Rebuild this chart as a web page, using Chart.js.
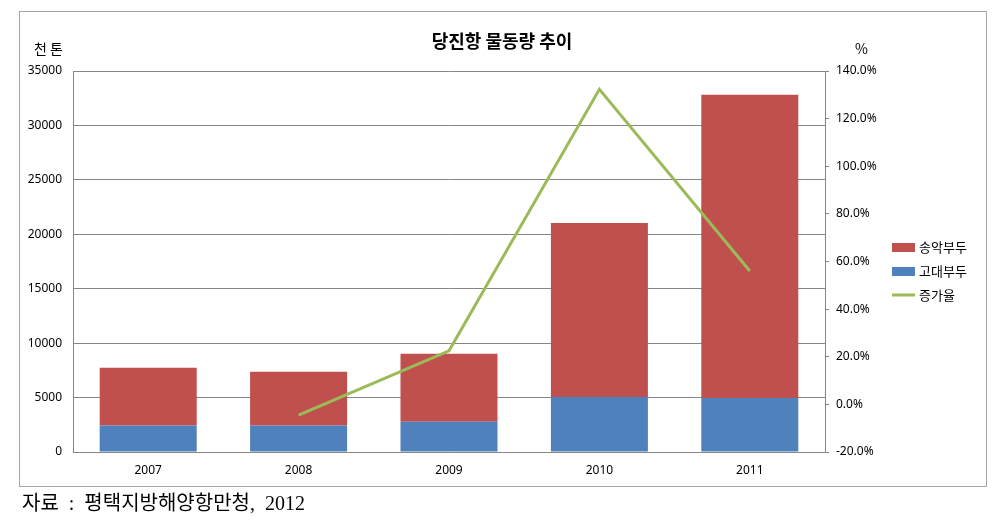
<!DOCTYPE html>
<html>
<head>
<meta charset="utf-8">
<script src="https://cdn.jsdelivr.net/npm/chart.js@4.4.1/dist/chart.umd.min.js"></script>
<style>
  body { margin: 0; background: #fff; }
  #wrap { position: relative; width: 1005px; height: 520px; }
  #frame { position: absolute; left: 19px; top: 11px; width: 966px; height: 474px; border: 1px solid #a6a6a6; }
  #chart { position: absolute; left: 0; top: 0; }
  #source { position: absolute; left: 22px; top: 487px; font: 20px "Liberation Serif", "Noto Sans CJK KR", serif; color: #000; white-space: pre; }
</style>
</head>
<body>
<div id="wrap">
  <div id="frame"></div>
  <canvas id="chart" width="1005" height="520"></canvas>
  <div id="source">자료  :  평택지방해양항만청,  2012</div>
</div>
<script>
// data
const years = ["2007", "2008", "2009", "2010", "2011"];
const godae = [2440, 2440, 2780, 5050, 4950];       // 고대부두 (천 톤)
const songak = [5290, 4930, 6240, 15990, 27860];    // 송악부두 (천 톤)
const growth = [null, -4.5, 22.5, 132.3, 56];       // 증가율 (%)

const leftTicks = { min: 0, max: 35000, step: 5000 };
const rightTicks = { min: -20, max: 140, step: 20 };

const FONT = '"Noto Sans", "Noto Sans CJK KR", sans-serif';
const KFONT = '"Noto Sans CJK KR", sans-serif';

// title, unit labels and legend
const extras = {
  id: "extras",
  afterDraw(chart) {
    const ctx = chart.ctx;
    ctx.save();
    ctx.fillStyle = "#000";
    ctx.textBaseline = "middle";

    ctx.font = "bold 18px " + KFONT;
    ctx.textAlign = "center";
    ctx.fillText("당진항 물동량 추이", 502, 41);

    ctx.font = "14px " + KFONT;
    ctx.textAlign = "left";
    ctx.fillText("천 톤", 34, 49);
    ctx.fillText("%", 855, 49);

    // legend in Excel order
    const items = [
      { label: "송악부두", color: "#C0504D", type: "box" },
      { label: "고대부두", color: "#4F81BD", type: "box" },
      { label: "증가율", color: "#9BBB59", type: "line" },
    ];
    ctx.font = "13px " + KFONT;
    items.forEach((it, i) => {
      const y = 247 + i * 24;
      if (it.type === "box") {
        ctx.fillStyle = it.color;
        ctx.fillRect(892, y - 4, 23, 9);
      } else {
        ctx.strokeStyle = it.color;
        ctx.lineWidth = 3;
        ctx.beginPath();
        ctx.moveTo(892, y);
        ctx.lineTo(915, y);
        ctx.stroke();
      }
      ctx.fillStyle = "#000";
      ctx.fillText(it.label, 919, y);
    });
    ctx.restore();
  },
};

new Chart(document.getElementById("chart").getContext("2d"), {
  data: {
    labels: years,
    datasets: [
      {
        type: "line",
        label: "증가율",
        data: growth,
        yAxisID: "y1",
        borderColor: "#9BBB59",
        borderWidth: 3,
        pointRadius: 0,
        tension: 0,
        order: 0,
      },
      {
        type: "bar",
        label: "고대부두",
        data: godae,
        backgroundColor: "#4F81BD",
        categoryPercentage: 1,
        barPercentage: 0.645,
        order: 1,
      },
      {
        type: "bar",
        label: "송악부두",
        data: songak,
        backgroundColor: "#C0504D",
        categoryPercentage: 1,
        barPercentage: 0.645,
        order: 1,
      },
    ],
  },
  options: {
    responsive: false,
    animation: false,
    layout: { padding: { top: 71, left: 0, right: 0, bottom: 0 } },
    plugins: { legend: { display: false }, tooltip: { enabled: false } },
    scales: {
      x: {
        stacked: true,
        grid: { display: false, drawTicks: false },
        border: { color: "#868686" },
        ticks: { color: "#000", font: { family: FONT, size: 12 }, padding: 11 },
        afterFit: (s) => { s.height = 68; },
      },
      y: {
        stacked: true,
        min: leftTicks.min,
        max: leftTicks.max,
        grid: { color: "#868686", drawTicks: false },
        border: { color: "#868686" },
        ticks: {
          stepSize: leftTicks.step,
          color: "#000",
          font: { family: FONT, size: 12 },
          padding: 11,
          callback: (v) => String(v),
        },
        afterFit: (s) => { s.width = 73; },
      },
      y1: {
        position: "right",
        min: rightTicks.min,
        max: rightTicks.max,
        grid: { drawOnChartArea: false, drawTicks: true, tickLength: 4, color: "#868686" },
        border: { color: "#868686" },
        ticks: {
          stepSize: rightTicks.step,
          color: "#000",
          font: { family: FONT, size: 12 },
          padding: 7,
          callback: (v) => v.toFixed(1) + "%",
        },
        afterFit: (s) => { s.width = 180; },
      },
    },
  },
  plugins: [extras],
});
</script>
</body>
</html>
